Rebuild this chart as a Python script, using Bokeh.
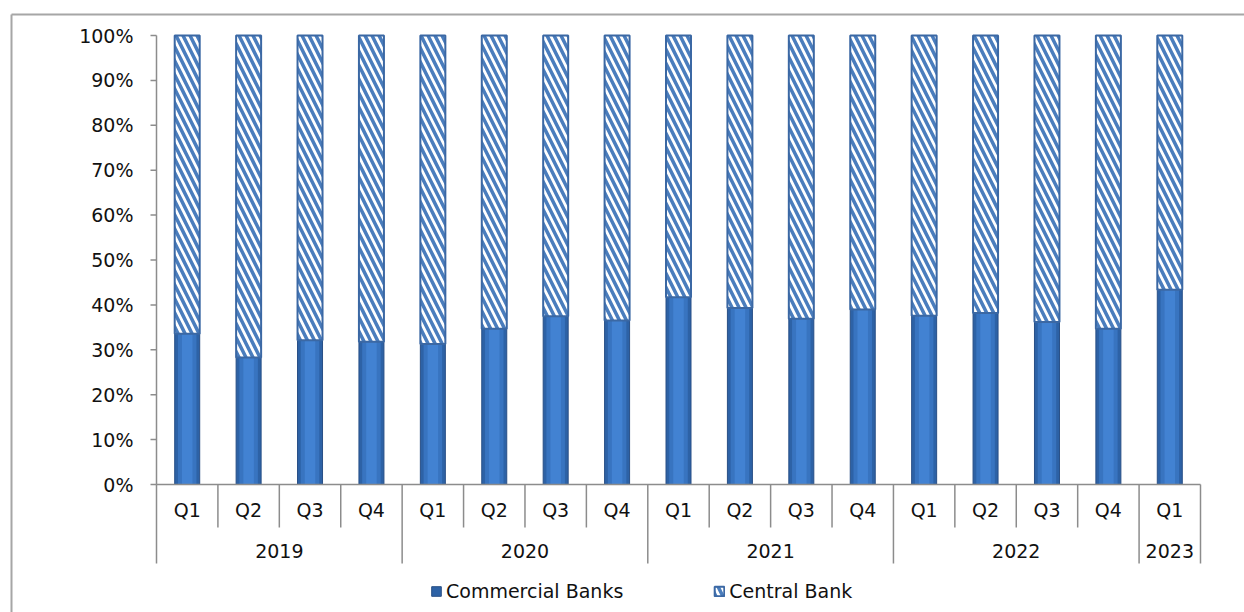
from bokeh.plotting import figure
from bokeh.models import Range1d, Legend, LegendItem, ColumnDataSource
from bokeh.core.properties import value
from bokeh.embed import file_html
from bokeh.resources import INLINE

# ---------------- data ----------------
quarters = ["Q1", "Q2", "Q3", "Q4", "Q1", "Q2", "Q3", "Q4", "Q1", "Q2", "Q3", "Q4",
            "Q1", "Q2", "Q3", "Q4", "Q1"]
year_labels = ["2019", "2020", "2021", "2022", "2023"]
year_counts = [4, 4, 4, 4, 1]
commercial = [33.6, 28.3, 32.1, 31.8, 31.3, 34.7, 37.5, 36.5, 41.7, 39.3, 36.9, 39.0,
              37.6, 38.2, 36.2, 34.7, 43.4]
central = [66.4, 71.7, 67.9, 68.2, 68.7, 65.3, 62.5, 63.5, 58.3, 60.7, 63.1, 61.0,
           62.4, 61.8, 63.8, 65.3, 56.6]
y_ticks = [0, 10, 20, 30, 40, 50, 60, 70, 80, 90, 100]
y_tick_labels = ["0%", "10%", "20%", "30%", "40%", "50%", "60%", "70%", "80%", "90%", "100%"]
series_names = ["Commercial Banks", "Central Bank"]

# ---------------- layout geometry (pixels) ----------------
W, H = 1244, 612
X0, X1 = 156, 1200      # plot area left / right
Y0, Y100 = 484, 35      # pixel y of 0% and 100%
n = len(quarters)
cat_px = (X1 - X0) / n
val_px = (Y0 - Y100) / 100.0

def px_x(px):
    return (px - X0) / cat_px

def px_y(py):
    return (Y0 - py) / val_px

FONT = "DejaVu Sans"
FS = "19px"
TXT = "#111111"
AX = "#8c8c8c"

p = figure(width=W, height=H, output_backend="svg", toolbar_location=None,
           x_axis_type=None, y_axis_type=None,
           x_range=Range1d(px_x(0), px_x(W)), y_range=Range1d(px_y(H), px_y(0)),
           min_border=0, min_border_left=0, min_border_right=0,
           min_border_top=0, min_border_bottom=0)
p.outline_line_color = None
p.grid.visible = False
p.background_fill_color = "white"
p.border_fill_color = "white"

xs = [i + 0.5 for i in range(n)]
tops = [c + k for c, k in zip(commercial, central)]
src = ColumnDataSource(dict(x=xs, com=commercial, cen=central, top=tops))
bar_w = 25 / cat_px

# outer chart border (top and left visible)
p.segment(x0=[px_x(11), px_x(11)], y0=[px_y(14), px_y(14)],
          x1=[px_x(W + 5), px_x(11)], y1=[px_y(14), px_y(H + 5)],
          line_color="#a6a6a6", line_width=2)

# Commercial banks (solid, with a simple shaded look)
r_com = p.vbar(x="x", top="com", bottom=0, width=bar_w, source=src,
               fill_color="#2d62a6", line_color="#284f86", line_width=1)
p.vbar(x="x", top="com", bottom=0, width=bar_w * 0.74, source=src,
       fill_color="#3874c0", line_color=None)
p.vbar(x="x", top="com", bottom=0, width=bar_w * 0.42, source=src,
       fill_color="#4282d2", line_color=None)

# Central bank (hatched)
r_cen = p.vbar(x="x", bottom="com", top="top", width=bar_w, source=src,
               fill_color="white", hatch_pattern="\\", hatch_color="#4a7dbd",
               hatch_weight=3.5, hatch_scale=14, line_color="#3b68a4", line_width=2)

# y axis line, ticks, labels
p.segment(x0=[0], y0=[0], x1=[0], y1=[100], line_color=AX, line_width=1.5)
p.segment(x0=[px_x(X0 - 6)] * len(y_ticks), y0=y_ticks, x1=[0] * len(y_ticks), y1=y_ticks,
          line_color=AX, line_width=1.5)
p.text(x=[px_x(133)] * len(y_ticks), y=y_ticks, text=y_tick_labels,
       text_font=value(FONT), text_font_size=FS, text_color=TXT,
       text_align="right", text_baseline="middle")

# x axis line and category separators
p.segment(x0=[0], y0=[0], x1=[n], y1=[0], line_color=AX, line_width=1.5)
bounds = [0]
for c in year_counts:
    bounds.append(bounds[-1] + c)
inner = [i for i in range(1, n) if i not in bounds]
p.segment(x0=inner, y0=[0] * len(inner), x1=inner, y1=[px_y(527)] * len(inner),
          line_color=AX, line_width=1.5)
p.segment(x0=bounds, y0=[0] * len(bounds), x1=bounds, y1=[px_y(563)] * len(bounds),
          line_color=AX, line_width=1.5)

p.text(x=xs, y=[px_y(509)] * n, text=quarters, text_font=value(FONT), text_font_size=FS,
       text_color=TXT, text_align="center", text_baseline="middle")
year_x = [(bounds[i] + bounds[i + 1]) / 2 for i in range(len(year_labels))]
p.text(x=year_x, y=[px_y(550)] * len(year_labels), text=year_labels,
       text_font=value(FONT), text_font_size=FS, text_color=TXT,
       text_align="center", text_baseline="middle")

legend = Legend(items=[LegendItem(label=series_names[0], renderers=[r_com]),
                       LegendItem(label=series_names[1], renderers=[r_cen])],
                orientation="horizontal", location=(430, 10),
                label_text_font=FONT, label_text_font_size=FS, label_text_color=TXT,
                glyph_width=12, glyph_height=12, label_standoff=4, spacing=90,
                padding=0, margin=0, border_line_color=None, background_fill_alpha=0)
p.add_layout(legend)

open("out.html", "w").write(file_html(p, INLINE))
